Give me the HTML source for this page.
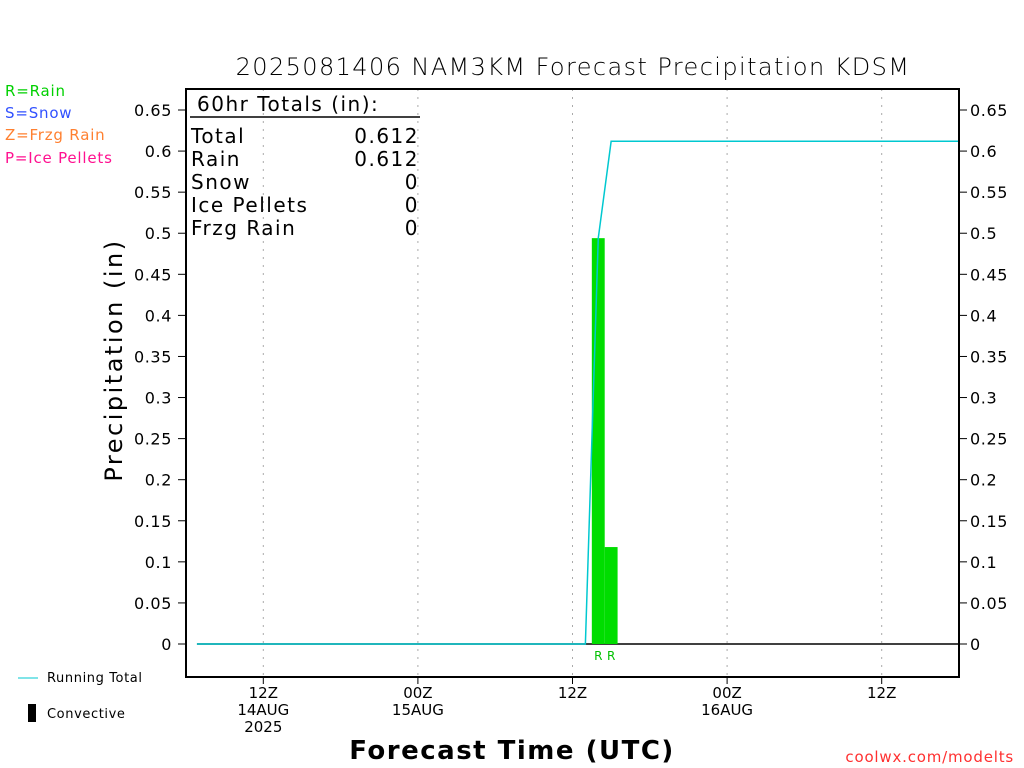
<!DOCTYPE html>
<html><head><meta charset="utf-8"><style>
body{margin:0;background:#fff;}
svg{display:block;font-family:"DejaVu Sans","Liberation Sans",sans-serif;}
</style></head><body>
<svg id="c" width="1024" height="768" viewBox="0 0 1024 768">
<rect width="1024" height="768" fill="#fff"/>
<text x="573" y="75" font-size="24" text-anchor="middle" fill="#000" letter-spacing="1.4" font-weight="300">2025081406 NAM3KM Forecast Precipitation KDSM</text>
<g font-size="15" letter-spacing="0.8">
<text x="5" y="96" fill="#00d000">R=Rain</text>
<text x="5" y="118" fill="#3050ff">S=Snow</text>
<text x="5" y="140" fill="#ff8030">Z=Frzg Rain</text>
<text x="5" y="163" fill="#ff1090">P=Ice Pellets</text>
</g>
<g id="grid"></g>
<g id="marks"></g>
<rect x="186" y="89" width="773" height="588" fill="none" stroke="#000" stroke-width="2"/>
<g id="axes"></g>
<g font-size="20" fill="#000" letter-spacing="1.5">
<text x="197" y="111">60hr Totals (in):</text>
<line x1="190" y1="117" x2="420" y2="117" stroke="#000" stroke-width="1.5"/>
<text x="191" y="143">Total</text><text x="419" y="143" text-anchor="end">0.612</text>
<text x="191" y="166">Rain</text><text x="419" y="166" text-anchor="end">0.612</text>
<text x="191" y="189">Snow</text><text x="419" y="189" text-anchor="end">0</text>
<text x="191" y="212">Ice Pellets</text><text x="419" y="212" text-anchor="end">0</text>
<text x="191" y="235">Frzg Rain</text><text x="419" y="235" text-anchor="end">0</text>
</g>
<text transform="translate(122,360) rotate(-90)" font-size="24" letter-spacing="2.5" text-anchor="middle">Precipitation (in)</text>
<text x="512" y="759" font-size="26" letter-spacing="1.5" text-anchor="middle" font-weight="bold">Forecast Time (UTC)</text>
<text x="1014" y="762" font-size="15" letter-spacing="0.8" text-anchor="end" fill="#ff3030">coolwx.com/modelts</text>
<line x1="18" y1="678" x2="38" y2="678" stroke="#00c8d0"/>
<text x="47" y="682" font-size="13" letter-spacing="0.6">Running Total</text>
<rect x="28" y="704" width="8" height="18" fill="#000"/>
<text x="47" y="718" font-size="13" letter-spacing="0.6">Convective</text>
</svg>
<script>
const hours=[32,33];
const rainAmt=[0.494,0.118];
const totalHours=[0.85,31,32,33,60];
const totalVals=[0,0,0.494,0.612,0.612];
const yTicks=[0,0.05,0.1,0.15,0.2,0.25,0.3,0.35,0.4,0.45,0.5,0.55,0.6,0.65];
const xTickHours=[6,18,30,42,54];
const xTickLabels=[["12Z","14AUG","2025"],["00Z","15AUG"],["12Z"],["00Z","16AUG"],["12Z"]];
const ns="http://www.w3.org/2000/svg";
const X=h=>186+h*(773/60);
const Y=v=>644-v*(534/0.65);
function mk(t,a,p){const e=document.createElementNS(ns,t);for(const k in a)e.setAttribute(k,a[k]);p.appendChild(e);return e;}
const grid=document.getElementById('grid'),marks=document.getElementById('marks'),axes=document.getElementById('axes');
xTickHours.forEach((h,i)=>{
  const l=mk('line',{x1:X(h),x2:X(h),y1:89,y2:677,stroke:'#aaa','stroke-dasharray':'2,6'},grid);
  
  
  const t=mk('line',{x1:X(h),x2:X(h),y1:677,y2:684,stroke:'#000'},axes);
  
  
  xTickLabels[i].forEach((s,j)=>{
    const tx=mk('text',{x:X(h),y:698+j*17,'font-size':15,'text-anchor':'middle'},axes);
    tx.textContent=s;
    
    
  });
});
yTicks.forEach(v=>{
  [[178,186,172,'end'],[959,967,970,'start']].forEach(s=>{
    const t=mk('line',{x1:s[0],x2:s[1],y1:Y(v),y2:Y(v),stroke:'#000'},axes);
    
    
    const tx=mk('text',{x:s[2],y:Y(v)+6,'font-size':16,'letter-spacing':0.6,'text-anchor':s[3]},axes);
    tx.textContent=String(v);
    
    
  });
});
const zl=mk('line',{x1:X(totalHours[0]),x2:959,y1:Y(0),y2:Y(0),stroke:'#000','stroke-width':1.5},marks);


const w=773/60;
hours.forEach((h,i)=>{
  const r=mk('rect',{x:X(h)-w/2,y:Y(rainAmt[i]),width:w,height:Y(0)-Y(rainAmt[i]),fill:'#00dd00'},marks);
  
  
  const t=mk('text',{x:X(h),y:660,'font-size':12,'text-anchor':'middle',fill:'#00c000'},marks);
  t.textContent='R';
  
  
});
const pl=mk('polyline',{points:totalHours.map((h,i)=>X(h)+','+Y(totalVals[i])).join(' '),fill:'none',stroke:'#00c8d0','stroke-width':1.5},marks);


</script>
</body></html>
